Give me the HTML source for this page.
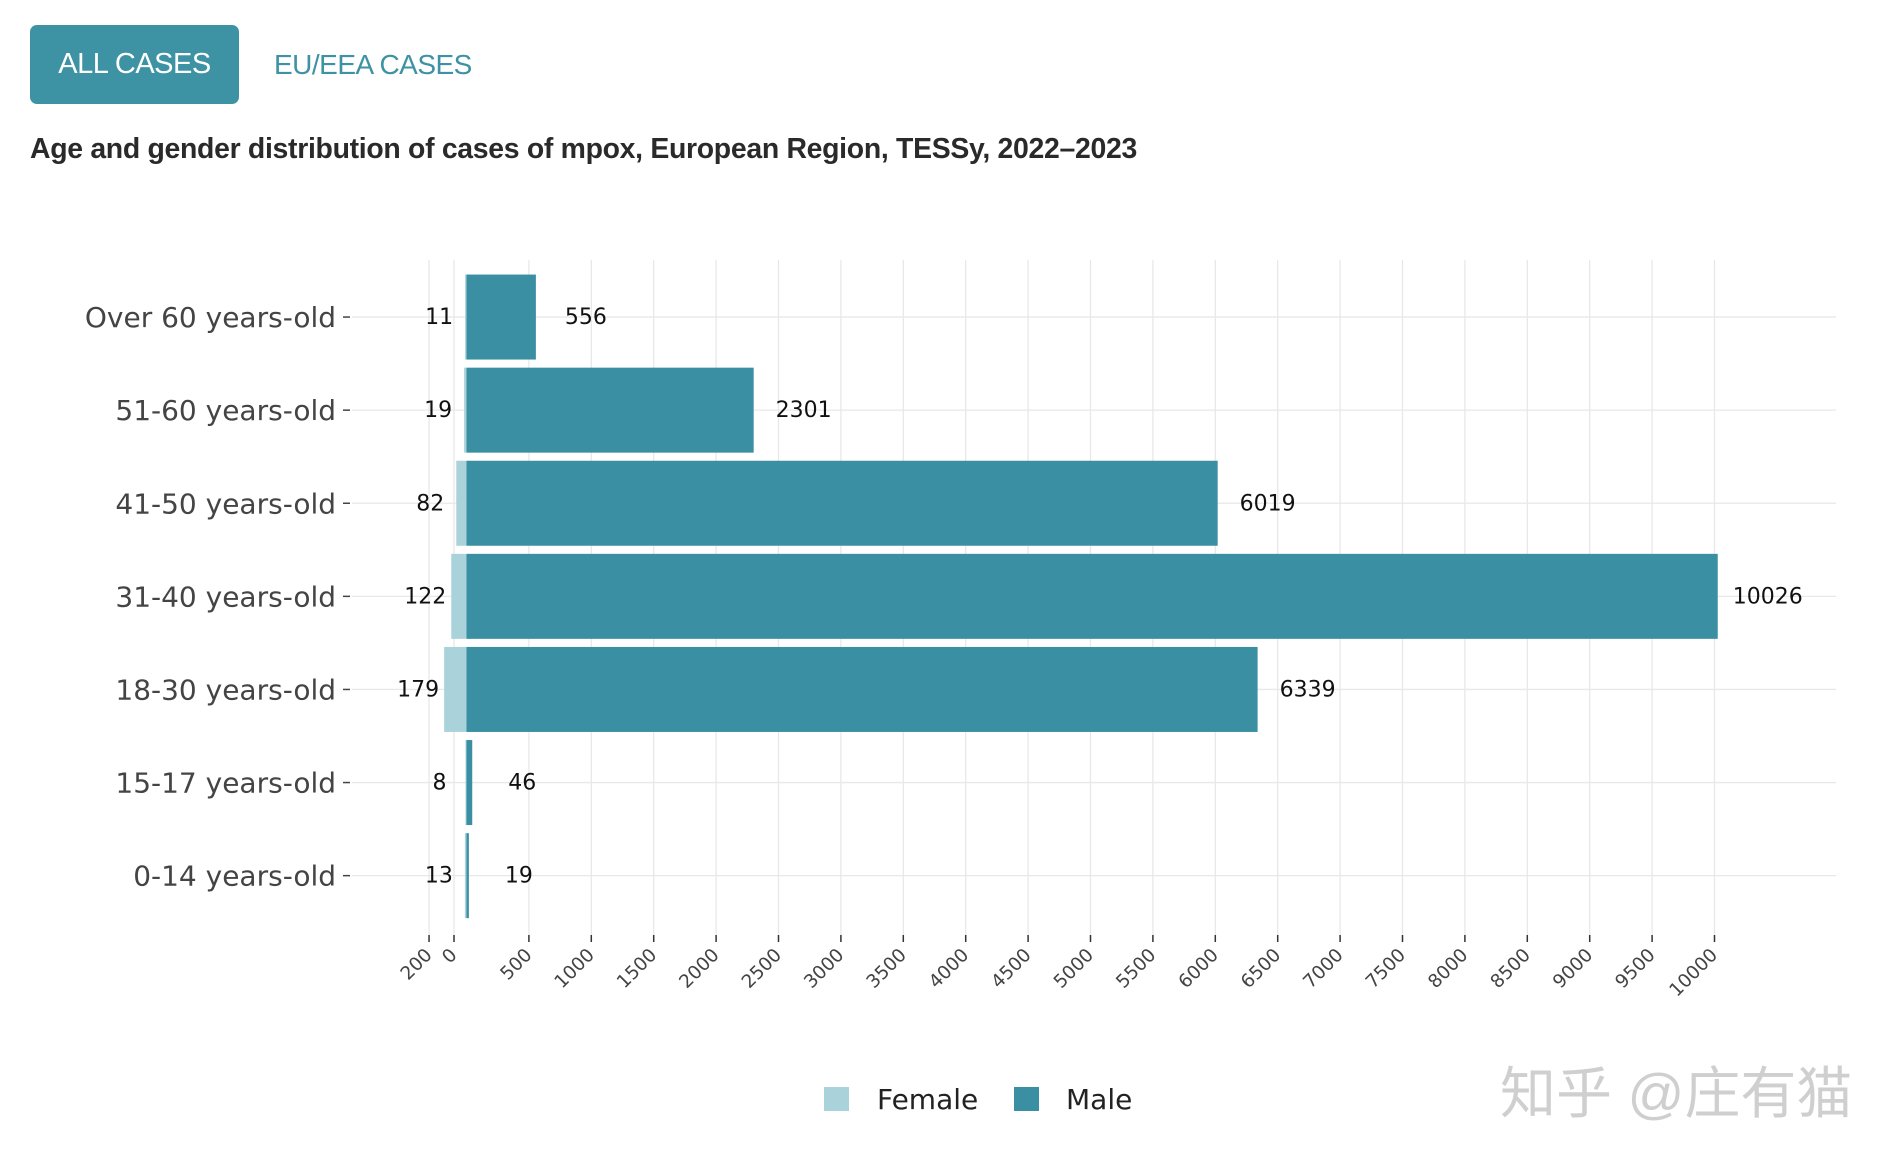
<!DOCTYPE html>
<html><head><meta charset="utf-8"><style>
body{margin:0;width:1904px;height:1168px;background:#fff;overflow:hidden;font-family:"Liberation Sans",sans-serif;position:relative}
.btn{position:absolute;left:30px;top:25px;width:209px;height:79px;background:#3d92a3;border-radius:7px;color:#fff;font-size:29px;line-height:79px;text-align:center;letter-spacing:-0.5px}
.tab{position:absolute;left:274px;top:25px;height:79px;line-height:79px;color:#3d92a3;font-size:28px;letter-spacing:-0.5px}
.title{position:absolute;left:30px;top:133px;font-size:28.4px;font-weight:bold;color:#2a2a2a;letter-spacing:-0.3px}
svg{position:absolute;left:0;top:0}
</style></head><body>
<div class="btn">ALL CASES</div>
<div class="tab">EU/EEA CASES</div>
<div class="title">Age and gender distribution of cases of mpox, European Region, TESSy, 2022–2023</div>
<svg id="chart" width="1904" height="1168"></svg>
<script>
const categories=["Over 60 years-old","51-60 years-old","41-50 years-old","31-40 years-old","18-30 years-old","15-17 years-old","0-14 years-old"];
const female=[11,19,82,122,179,8,13];
const male=[556,2301,6019,10026,6339,46,19];
const maleTicks=[500,1000,1500,2000,2500,3000,3500,4000,4500,5000,5500,6000,6500,7000,7500,8000,8500,9000,9500,10000];
const femaleTicks=[200,0];

const NS="http://www.w3.org/2000/svg";
const svg=document.getElementById('chart');
const X0=466.5,K=0.1248,FX0=454;
const xm=v=>X0+v*K, xf=v=>X0-v*K, xfTick=v=>FX0-v*K;
const plotTop=260,plotBottom=935,rowTop=270.5,rowH=93.1;
const yc=i=>rowTop+rowH*(i+0.5);
const barH=85;
function mk(tag,attrs,text){const e=document.createElementNS(NS,tag);for(const k in attrs)e.setAttribute(k,attrs[k]);if(text!==undefined)e.textContent=text;svg.appendChild(e);return e;}
maleTicks.forEach(v=>{
 const g=mk('line',{x1:xm(v),x2:xm(v),y1:plotTop,y2:plotBottom,stroke:'#e8e8e8','stroke-width':1.3});
 
 
});
femaleTicks.forEach(v=>{
 const g=mk('line',{x1:xfTick(v),x2:xfTick(v),y1:plotTop,y2:plotBottom,stroke:'#e8e8e8','stroke-width':1.3});
 
 
});
categories.forEach((c,i)=>{
 const g=mk('line',{x1:352,x2:1836,y1:yc(i),y2:yc(i),stroke:'#e8e8e8','stroke-width':1.3});
 
 
});
function tick(x,label){
 const t=mk('line',{x1:x,x2:x,y1:935,y2:942,stroke:'#333','stroke-width':1.5});
 
 
 const l=mk('text',{x:x+4,y:956,'font-size':18.5,fill:'#444','text-anchor':'end','font-family':'DejaVu Sans, sans-serif',transform:`rotate(-45 ${x+4} 956)`},label);
 
 
}
maleTicks.forEach(v=>tick(xm(v),v));
femaleTicks.forEach(v=>tick(xfTick(v),v));
categories.forEach((c,i)=>{
 const y=yc(i);
 const fb=mk('rect',{x:xf(female[i]),y:y-barH/2,width:female[i]*K,height:barH,fill:'#a9d2db'});
 
 
 const mb=mk('rect',{x:X0,y:y-barH/2,width:male[i]*K,height:barH,fill:'#3b8fa3'});
 
 
 const fl=mk('text',{x:xf(female[i])-26,y:y+7,'font-size':22,fill:'#111','text-anchor':'middle','font-family':'DejaVu Sans, sans-serif'},female[i]);
 
 
 const ml=mk('text',{x:xm(male[i])+50,y:y+7,'font-size':22,fill:'#111','text-anchor':'middle','font-family':'DejaVu Sans, sans-serif'},male[i]);
 
 
 const cl=mk('text',{x:336,y:y+10,'font-size':28,fill:'#444','text-anchor':'end','font-family':'DejaVu Sans, sans-serif'},c);
 
 
 const ct=mk('line',{x1:343,x2:350,y1:y,y2:y,stroke:'#444','stroke-width':1.5});
 
 
});
const lf=mk('rect',{x:824,y:1087,width:25,height:24,fill:'#a9d2db'});


const lft=mk('text',{x:877,y:1109,'font-size':28,fill:'#222','font-family':'DejaVu Sans, sans-serif'},'Female');


const lm=mk('rect',{x:1014,y:1087,width:25,height:24,fill:'#3b8fa3'});


const lmt=mk('text',{x:1066,y:1109,'font-size':28,fill:'#222','font-family':'DejaVu Sans, sans-serif'},'Male');


const wm=mk('text',{x:1500,y:1113,'font-size':56,fill:'#cfcfcf','font-family':'Liberation Sans, Noto Sans CJK SC, sans-serif'},'知乎 @庄有猫');


</script>
</body></html>
